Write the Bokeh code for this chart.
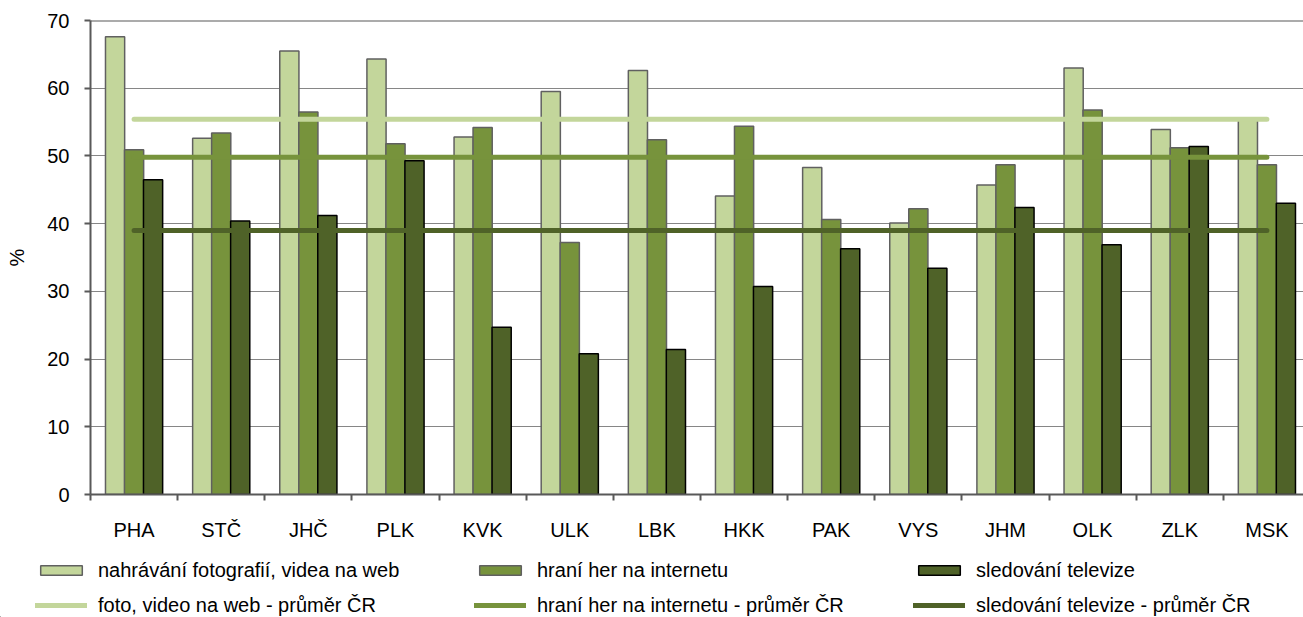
from bokeh.plotting import figure
from bokeh.layouts import column
from bokeh.models import FixedTicker, Span, Legend, LegendItem, ColumnDataSource, Range1d, Plot
from bokeh.transform import dodge
from bokeh.embed import file_html
from bokeh.resources import INLINE

regions = ["PHA", "STČ", "JHČ", "PLK", "KVK", "ULK", "LBK", "HKK", "PAK", "VYS", "JHM", "OLK", "ZLK", "MSK"]
upload = [67.6, 52.6, 65.5, 64.3, 52.8, 59.5, 62.6, 44.1, 48.3, 40.1, 45.7, 63.0, 53.9, 55.3]
games = [50.9, 53.4, 56.5, 51.8, 54.2, 37.2, 52.4, 54.4, 40.6, 42.2, 48.7, 56.8, 51.2, 48.7]
tv = [46.5, 40.4, 41.2, 49.3, 24.7, 20.8, 21.4, 30.7, 36.3, 33.4, 42.4, 36.9, 51.4, 43.0]
avg_upload = 55.4
avg_games = 49.8
avg_tv = 39.0
bar_names = ["nahrávání fotografií, videa na web", "hraní her na internetu", "sledování televize"]
avg_names = ["foto, video na web - průměr ČR", "hraní her na internetu - průměr ČR", "sledování televize - průměr ČR"]
y_ticks = [0, 10, 20, 30, 40, 50, 60, 70]

FONT = "Liberation Sans"
C_LIGHT = "#C3D69B"
C_MID = "#77933C"
C_DARK = "#4F6228"
AXIS_C = "#595959"
BAR_LINE = "#606060"

n = len(regions)
centers = [i + 0.5 for i in range(n)]
bounds = [float(i) for i in range(n + 1)]

src = ColumnDataSource(dict(x=centers, upload=upload, games=games, tv=tv,
                            a_up=[avg_upload] * n, a_ga=[avg_games] * n, a_tv=[avg_tv] * n))

W = 1303
H1 = 548
H2 = 617 - H1

p = figure(width=W, height=H1, output_backend="svg", toolbar_location=None,
           x_range=Range1d(0, 13.92), y_range=Range1d(0, 70),
           min_border_left=90, min_border_top=20, min_border_right=0, min_border_bottom=H1 - 494)
p.outline_line_color = None
p.background_fill_color = "white"

bw = 0.22
off = 0.218
r1 = p.vbar(x=dodge("x", -off), top="upload", width=bw, source=src,
            fill_color=C_LIGHT, line_color=BAR_LINE, line_width=1.5)
r2 = p.vbar(x=dodge("x", 0.0), top="games", width=bw, source=src,
            fill_color=C_MID, line_color=BAR_LINE, line_width=1.5)
r3 = p.vbar(x=dodge("x", off), top="tv", width=bw, source=src,
            fill_color=C_DARK, line_color="#000000", line_width=1.5)

p.line(x="x", y="a_up", source=src, line_color=C_LIGHT, line_width=5, line_cap="round")
p.line(x="x", y="a_ga", source=src, line_color=C_MID, line_width=5, line_cap="round")
p.line(x="x", y="a_tv", source=src, line_color=C_DARK, line_width=5, line_cap="round")

# top border
p.add_layout(Span(location=70, dimension="width", line_color=AXIS_C, line_width=2))

# grid
p.xgrid.visible = False
p.ygrid.ticker = FixedTicker(ticks=y_ticks)
p.ygrid.grid_line_color = "#868686"
p.ygrid.grid_line_width = 1

# x axis
xa = p.xaxis[0]
xa.ticker = FixedTicker(ticks=centers, minor_ticks=bounds)
xa.major_label_overrides = {c: r for c, r in zip(centers, regions)}
xa.major_tick_out = 0
xa.major_tick_in = 0
xa.minor_tick_out = 6
xa.minor_tick_in = 0
xa.minor_tick_line_color = AXIS_C
xa.minor_tick_line_width = 2
xa.axis_line_color = AXIS_C
xa.axis_line_width = 2
xa.major_label_text_font = FONT
xa.major_label_text_font_size = "20px"
xa.major_label_text_color = "black"
xa.major_label_standoff = 18

# y axis
ya = p.yaxis[0]
ya.ticker = FixedTicker(ticks=y_ticks)
ya.major_tick_out = 6
ya.major_tick_in = 0
ya.minor_tick_line_color = None
ya.major_tick_line_color = AXIS_C
ya.major_tick_line_width = 2
ya.axis_line_color = AXIS_C
ya.axis_line_width = 2
ya.major_label_text_font = FONT
ya.major_label_text_font_size = "20px"
ya.major_label_text_color = "black"
ya.major_label_standoff = 15
ya.axis_label = "%"
ya.axis_label_text_font = FONT
ya.axis_label_text_font_size = "20px"
ya.axis_label_text_font_style = "normal"
ya.axis_label_text_color = "black"
ya.axis_label_standoff = 16

# legend strip below the chart (a frame with no axes; dummy glyphs lie outside its range)
q = figure(width=W, height=H2, output_backend="svg", toolbar_location=None,
           x_range=Range1d(0, W), y_range=Range1d(0, H2),
           x_axis_location=None, y_axis_location=None,
           min_border_left=0, min_border_right=0, min_border_top=0, min_border_bottom=0)
q.grid.visible = False
q.outline_line_color = None

# stop the column layout from aligning the legend strip's frame with the chart's frame
dx = 90
if "frame_align" in Plot.properties():
    p.frame_align = False
    q.frame_align = False
    dx = 0

hx = [-1000, -999]
hy = [-1000, -1000]
lb1 = q.vbar(x=hx, top=hy, width=1, fill_color=C_LIGHT, line_color=BAR_LINE, line_width=1.5)
lb2 = q.vbar(x=hx, top=hy, width=1, fill_color=C_MID, line_color=BAR_LINE, line_width=1.5)
lb3 = q.vbar(x=hx, top=hy, width=1, fill_color=C_DARK, line_color="#000000", line_width=1.5)
ll1 = q.line(x=hx, y=hy, line_color=C_LIGHT, line_width=5, line_cap="round")
ll2 = q.line(x=hx, y=hy, line_color=C_MID, line_width=5, line_cap="round")
ll3 = q.line(x=hx, y=hy, line_color=C_DARK, line_width=5, line_cap="round")

for vx, rb, rl, nb, nl in [(35, lb1, ll1, bar_names[0], avg_names[0]),
                           (474, lb2, ll2, bar_names[1], avg_names[1]),
                           (913, lb3, ll3, bar_names[2], avg_names[2])]:
    lg = Legend(items=[LegendItem(label=nb, renderers=[rb]), LegendItem(label=nl, renderers=[rl])],
                location=(vx - dx, 0), orientation="vertical",
                glyph_width=52, glyph_height=12, label_standoff=11, spacing=11,
                padding=0, margin=0, border_line_color=None, background_fill_alpha=0,
                label_text_font=FONT, label_text_font_size="20px", label_text_color="black",
                label_height=24)
    q.add_layout(lg, "center")

open("out.html", "w").write(file_html(column(p, q), INLINE))
